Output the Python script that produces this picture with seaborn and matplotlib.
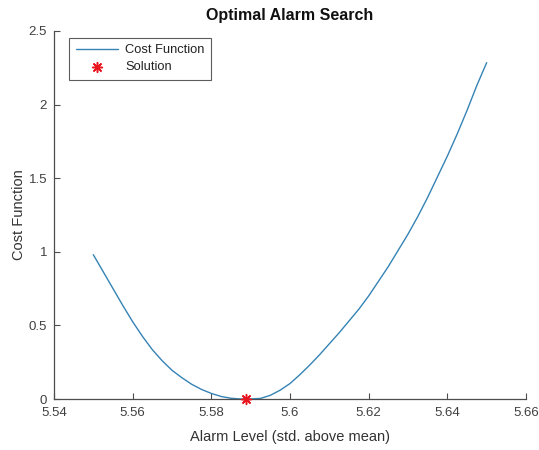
import matplotlib
matplotlib.use("Agg")
import matplotlib.pyplot as plt
import seaborn as sns
import pandas as pd

# ---- data ----
alarm_level = [5.5500, 5.5525, 5.5550, 5.5575, 5.5600, 5.5625, 5.5650, 5.5675,
               5.5700, 5.5725, 5.5750, 5.5775, 5.5800, 5.5825, 5.5850, 5.5875,
               5.5900, 5.5925, 5.5950, 5.5975, 5.6000, 5.6025, 5.6050, 5.6075,
               5.6100, 5.6125, 5.6150, 5.6175, 5.6200, 5.6225, 5.6250, 5.6275,
               5.6300, 5.6325, 5.6350, 5.6375, 5.6400, 5.6425, 5.6450, 5.6475,
               5.6500]
cost = [0.98, 0.865, 0.75, 0.635, 0.525, 0.425, 0.335, 0.26,
        0.195, 0.145, 0.10, 0.065, 0.038, 0.017, 0.005, 0.0,
        0.0, 0.004, 0.025, 0.06, 0.105, 0.165, 0.23, 0.30,
        0.375, 0.45, 0.53, 0.61, 0.70, 0.80, 0.90, 1.01,
        1.12, 1.24, 1.37, 1.51, 1.65, 1.80, 1.96, 2.13,
        2.285]
solution_x = [5.5889]
solution_y = [0.0]

x_ticks = [5.54, 5.56, 5.58, 5.60, 5.62, 5.64, 5.66]
x_tick_labels = ["5.54", "5.56", "5.58", "5.6", "5.62", "5.64", "5.66"]
y_ticks = [0, 0.5, 1, 1.5, 2, 2.5]
y_tick_labels = ["0", "0.5", "1", "1.5", "2", "2.5"]

curve_df = pd.DataFrame({"x": alarm_level, "y": cost})
sol_df = pd.DataFrame({"x": solution_x, "y": solution_y})

sns.set_style("ticks")
plt.rcParams["font.family"] = ["Liberation Sans", "DejaVu Sans"]

fig = plt.figure(figsize=(5.39, 4.5), dpi=100)
ax = fig.add_axes([54/539, 51/450, 472/539, 368/450])

sns.lineplot(data=curve_df, x="x", y="y", ax=ax, color="#3583b5",
             linewidth=1.0, label="Cost Function")
sns.scatterplot(data=sol_df, x="x", y="y", ax=ax, color="#e8141e",
                marker=(8, 2, 0), s=50, linewidth=1.1, edgecolor="#e8141e",
                label="Solution", zorder=5, clip_on=False)

ax.set_xlim(5.54, 5.66)
ax.set_ylim(0, 2.5)
ax.set_xticks(x_ticks)
ax.set_xticklabels(x_tick_labels)
ax.set_yticks(y_ticks)
ax.set_yticklabels(y_tick_labels)

for s in ["top", "right"]:
    ax.spines[s].set_visible(False)
for s in ["left", "bottom"]:
    ax.spines[s].set_color("#4d4d4d")
    ax.spines[s].set_linewidth(0.9)

ax.tick_params(axis="both", direction="in", length=4, width=0.8,
               color="#4d4d4d", labelsize=9.5, labelcolor="#404040")
ax.tick_params(axis="x", pad=6)
ax.tick_params(axis="y", pad=5)

ax.set_xlabel("Alarm Level (std. above mean)", fontsize=10.5, color="#333333", labelpad=8)
ax.set_ylabel("Cost Function", fontsize=10.5, color="#333333", labelpad=2)
ax.set_title("Optimal Alarm Search", fontsize=11.5, fontweight="bold", color="#111111", pad=8)

leg = ax.legend(loc="upper left", bbox_to_anchor=(0.032, 0.981), borderaxespad=0,
                fontsize=9.3, frameon=True, fancybox=False, handlelength=3.3,
                handletextpad=0.55, borderpad=0.5, labelspacing=0.35)
leg.get_frame().set_edgecolor("#333333")
leg.get_frame().set_linewidth(0.8)
for t in leg.get_texts():
    t.set_color("#222222")

fig.savefig("out.png", dpi=100, facecolor="white")
